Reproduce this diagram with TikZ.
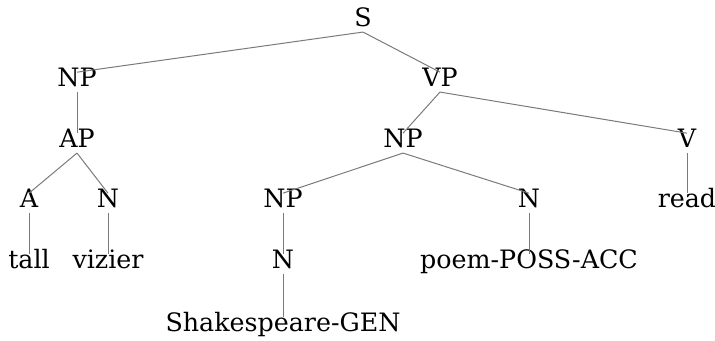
\documentclass[tikz,border=0pt]{standalone}
\usepackage{fontspec}
\setmainfont{DejaVu Serif}
\usetikzlibrary{positioning}

\begin{document}
\begin{tikzpicture}[
  x=0.75pt,y=-0.75pt,
  cat/.style={anchor=base, inner sep=0pt, outer ysep=3.8pt, text height=0.73em, text depth=0pt,
    font=\fontsize{19}{22}\selectfont},
  edge/.style={draw=black!52, line width=0.75pt}
]
\useasboundingbox (0,0) rectangle (715,341);

% categories, row by row (base lines)
\node[cat] (s) at (363,27) {S};

\node[cat] (np1) at (77,87) {NP};
\node[cat] (vp) at (440,87) {VP};

\node[cat] (ap) at (77,148) {AP};
\node[cat] (np2) at (403,148) {NP};
\node[cat] (v) at (687,148) {V};

\node[cat] (a) at (29,208) {A};
\node[cat] (n1) at (108,208) {N};
\node[cat] (np3) at (283,208) {NP};
\node[cat] (n2) at (529,208) {N};
\node[cat] (read) at (687,208) {read};

\node[cat] (tall) at (29,269) {tall};
\node[cat] (vizier) at (108,269) {vizier};
\node[cat] (n3) at (283,269) {N};
\node[cat] (poem) at (529,269) {poem-POSS-ACC};

\node[cat] (shak) at (283,332) {Shakespeare-GEN};

% branches
\draw[edge] (s.south) -- (np1.north);
\draw[edge] (s.south) -- (vp.north);
\draw[edge] (np1.south) -- (ap.north);
\draw[edge] (ap.south) -- (a.north);
\draw[edge] (ap.south) -- (n1.north);
\draw[edge] (a.south) -- (tall.north);
\draw[edge] (n1.south) -- (vizier.north);
\draw[edge] (vp.south) -- (np2.north);
\draw[edge] (vp.south) -- (v.north);
\draw[edge] (v.south) -- (read.north);
\draw[edge] (np2.south) -- (np3.north);
\draw[edge] (np2.south) -- (n2.north);
\draw[edge] (np3.south) -- (n3.north);
\draw[edge] (n3.south) -- (shak.north);
\draw[edge] (n2.south) -- (poem.north);

\end{tikzpicture}
\end{document}
